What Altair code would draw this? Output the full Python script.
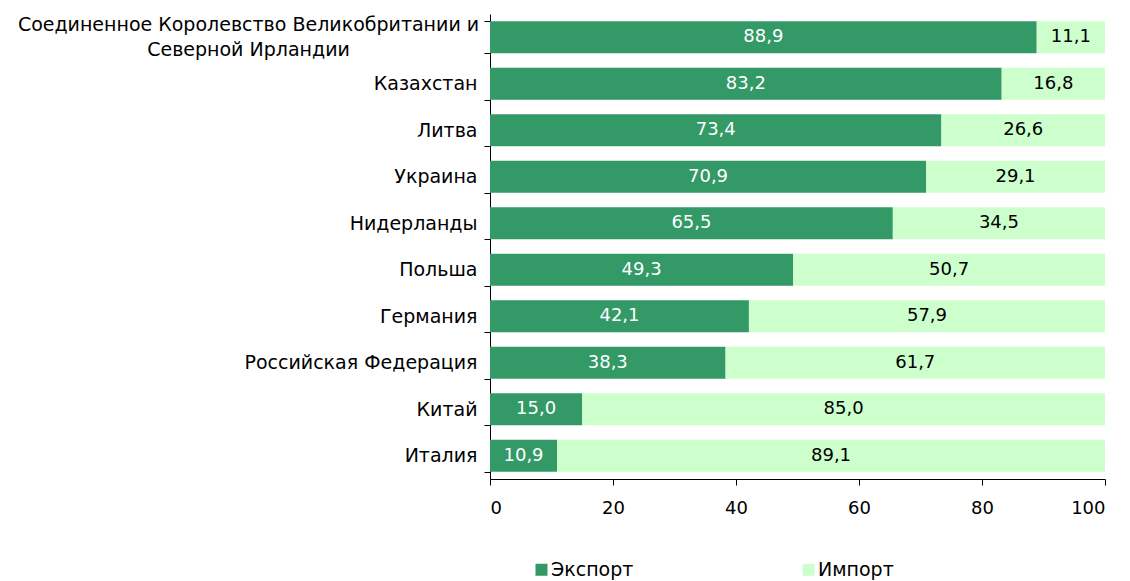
import altair as alt
import pandas as pd

UK = "Соединенное Королевство Великобритании и\nСеверной Ирландии"
countries = [
    UK,
    "Казахстан",
    "Литва",
    "Украина",
    "Нидерланды",
    "Польша",
    "Германия",
    "Российская Федерация",
    "Китай",
    "Италия",
]
export_vals = [88.9, 83.2, 73.4, 70.9, 65.5, 49.3, 42.1, 38.3, 15.0, 10.9]
import_vals = [11.1, 16.8, 26.6, 29.1, 34.5, 50.7, 57.9, 61.7, 85.0, 89.1]
series = ["Экспорт", "Импорт"]
colors = ["#339966", "#CCFFCC"]

rows = []
for c, e, i in zip(countries, export_vals, import_vals):
    rows.append({"country": c, "series": series[0], "order": 0, "value": e,
                 "label": f"{e:.1f}".replace(".", ",")})
    rows.append({"country": c, "series": series[1], "order": 1, "value": i,
                 "label": f"{i:.1f}".replace(".", ",")})
df = pd.DataFrame(rows)

FONT = "DejaVu Sans"
FS = 18
FSY = 19

MULTI = "indexof(datum.label, '\\n') >= 0"

base = alt.Chart(df).transform_stack(
    stack="value", groupby=["country"], as_=["x0", "x1"],
    sort=[alt.SortField("order", order="ascending")]
).transform_calculate(mid="(datum.x0 + datum.x1) / 2")

y_enc = alt.Y(
    "country:N", sort=countries, title=None,
    scale=alt.Scale(paddingInner=0.31, paddingOuter=0.155),
    axis=alt.Axis(
        tickBand="extent", labelFontSize=FSY, labelFont=FONT, labelColor="black",
        domainColor="black", tickColor="black", tickSize=6,
        labelLimit=700, labelExpr="split(datum.label, '\\n')", labelLineHeight=25,
        labelOffset={"expr": MULTI + " ? -13 : 0"},
        labelAlign={"expr": MULTI + " ? 'center' : 'right'"},
        labelPadding={"expr": MULTI + " ? 236 : 7"},
    ),
)

bars = base.mark_bar().encode(
    y=y_enc,
    x=alt.X("x0:Q", title=None,
            scale=alt.Scale(domain=[0, 100], nice=False),
            axis=alt.Axis(values=[0, 20, 40, 60, 80, 100], labelFontSize=FS,
                          labelFont=FONT, labelColor="black", domainColor="black",
                          tickColor="black", tickSize=6, labelPadding=14,
                          grid=False)),
    x2="x1:Q",
    color=alt.Color("series:N", sort=series,
                    scale=alt.Scale(domain=series, range=colors),
                    legend=alt.Legend(title=None, orient="none", direction="horizontal",
                                      legendX=42, legendY=546, symbolType="square",
                                      symbolSize=144, symbolStrokeWidth=0,
                                      labelFontSize=FSY, labelFont=FONT,
                                      labelColor="black", columnPadding=165,
                                      labelOffset=0, symbolOffset=0)),
)

texts = base.mark_text(fontSize=FS, font=FONT).encode(
    y=alt.Y("country:N", sort=countries),
    x=alt.X("mid:Q"),
    text="label:N",
    color=alt.condition(alt.datum.series == "Экспорт", alt.value("white"), alt.value("black")),
)

chart = alt.layer(bars, texts).properties(
    width=615, height=465,
    autosize=alt.AutoSizeParams(type="none"),
    padding={"left": 482, "top": 6, "right": 17, "bottom": 102},
).configure_view(stroke=None).configure_axis(grid=False)

chart.save("out.html", embed_options={"renderer": "svg", "actions": False})
